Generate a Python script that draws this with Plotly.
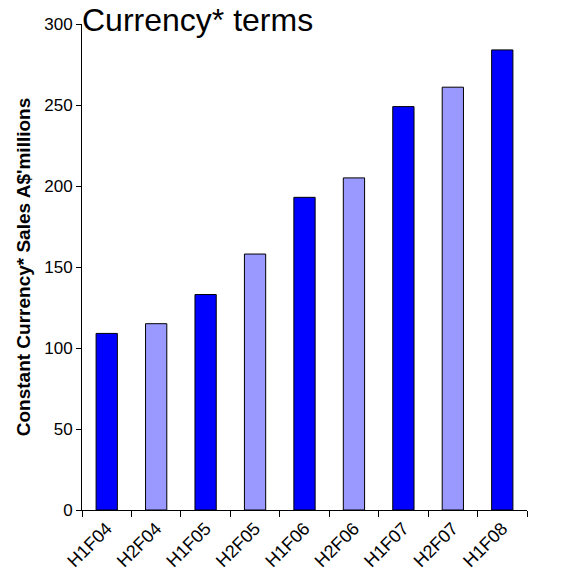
import plotly.graph_objects as go

periods = ["H1F04", "H2F04", "H1F05", "H2F05", "H1F06", "H2F06", "H1F07", "H2F07", "H1F08"]
sales = [109, 115, 133, 158, 193, 205, 249, 261, 284]
bar_colors = ["#0000FF", "#9999FF", "#0000FF", "#9999FF", "#0000FF",
              "#9999FF", "#0000FF", "#9999FF", "#0000FF"]

FONT = "Liberation Sans, Arial, sans-serif"

fig = go.Figure(
    go.Bar(
        x=periods,
        y=sales,
        width=0.43,
        marker=dict(color=bar_colors, line=dict(color="black", width=1)),
    )
)

fig.update_layout(
    width=564,
    height=585,
    margin=dict(l=82, r=37, t=24, b=75),
    paper_bgcolor="white",
    plot_bgcolor="white",
    showlegend=False,
    font=dict(family=FONT, color="black"),
)

fig.add_annotation(
    text="Currency* terms",
    xref="paper", yref="paper",
    x=0, y=1,
    xanchor="left", yanchor="bottom",
    xshift=-2,
    yshift=-16,
    showarrow=False,
    font=dict(family=FONT, size=32, color="black"),
)

fig.update_yaxes(
    range=[0, 300],
    tickvals=[0, 50, 100, 150, 200, 250, 300],
    showgrid=False,
    zeroline=False,
    showline=True,
    linecolor="black",
    linewidth=1,
    ticks="outside",
    ticklen=5,
    tickcolor="black",
    tickfont=dict(family=FONT, size=17, color="black"),
    title=dict(
        text="<b>Constant Currency* Sales A$'millions</b>",
        font=dict(family=FONT, size=19, color="black"),
        standoff=8,
    ),
)

fig.update_xaxes(
    showgrid=False,
    showline=True,
    linecolor="black",
    linewidth=1,
    ticks="outside",
    tickson="boundaries",
    ticklen=6,
    tickcolor="black",
    tickangle=-45,
    tickfont=dict(family=FONT, size=18, color="black"),
)

fig.write_html("out.html")
